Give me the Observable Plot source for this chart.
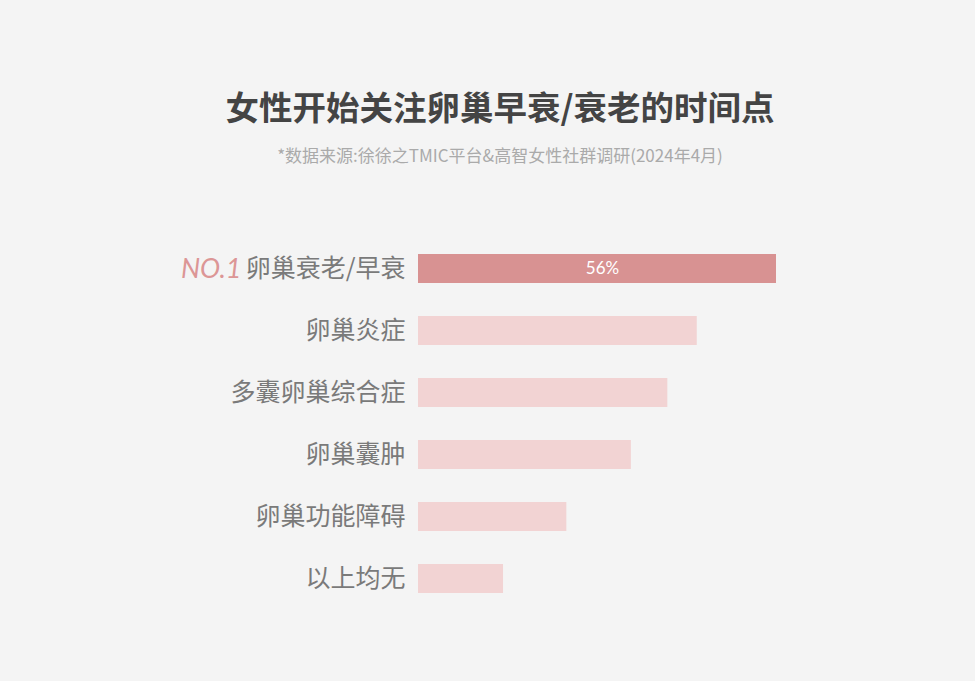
<!DOCTYPE html>
<html>
<head>
<meta charset="utf-8">
<script src="https://cdn.jsdelivr.net/npm/d3@7"></script>
<script src="https://cdn.jsdelivr.net/npm/@observablehq/plot@0.6"></script>
<style>
  html, body { margin: 0; padding: 0; background: #f4f4f4; }
  #wrap { width: 975px; height: 681px; background: #f4f4f4; position: relative; overflow: hidden; }
  #head { height: 218px; position: relative; }
  #title { position: absolute; left: 0; width: 975px; top: 83px; text-align: center;
    font-family: "Noto Sans CJK SC", sans-serif; font-weight: 700; font-size: 33.5px; color: #444;
    line-height: 46px; padding-left: 25px; box-sizing: border-box; }
  #subtitle { position: absolute; left: 0; width: 975px; top: 143px; text-align: center;
    font-family: "Noto Sans CJK SC", sans-serif; font-size: 17px; color: #aaa; line-height: 24px;
    padding-left: 25px; box-sizing: border-box; }
  svg { display: block; }
</style>
</head>
<body>
<div id="wrap">
  <div id="head">
    <div id="title">女性开始关注卵巢早衰/衰老的时间点</div>
    <div id="subtitle">*数据来源:徐徐之TMIC平台&amp;高智女性社群调研(2024年4月)</div>
  </div>
  <div id="chart"></div>
</div>
<script>
const categories = ["卵巢衰老/早衰", "卵巢炎症", "多囊卵巢综合症", "卵巢囊肿", "卵巢功能障碍", "以上均无"];
const values = [56, 43.6, 39, 33.3, 23.2, 13.3];
const topLabel = "NO.1";
const valueLabels = ["56%", "", "", "", "", ""];

const data = categories.map((c, i) => ({category: c, value: values[i], label: valueLabels[i], top: i === 0}));

const chart = Plot.plot({
  width: 975,
  height: 463,
  marginLeft: 418,
  marginRight: 199,
  marginTop: 1,
  marginBottom: 54,
  style: {background: "#f4f4f4", fontFamily: "\"Noto Sans CJK SC\", sans-serif"},
  x: {domain: [0, 56], axis: null},
  y: {domain: categories, padding: 0.535, axis: null},
  marks: [
    Plot.barX(data, {y: "category", x: "value", fill: d => d.top ? "#d89292" : "#f2d3d3"}),
    Plot.text(data, {y: "category", x: 0, text: "category", textAnchor: "end", dx: -13, dy: 0,
      fontSize: 25, fill: "#7a7a7a"}),
    Plot.text(data.filter(d => d.top), {y: "category", x: 0, text: () => topLabel, textAnchor: "end",
      dx: -177, dy: 0, fontSize: 27, fontStyle: "italic", fill: "#dc9696",
      fontFamily: "Lato, \"Open Sans\", sans-serif"}),
    Plot.text(data.filter(d => d.label), {y: "category", x: d => d.value / 2, text: "label",
      dx: 5, fontSize: 17, fill: "#ffffff", fontFamily: "Lato, sans-serif"})
  ]
});
document.getElementById("chart").appendChild(chart);
</script>
</body>
</html>
